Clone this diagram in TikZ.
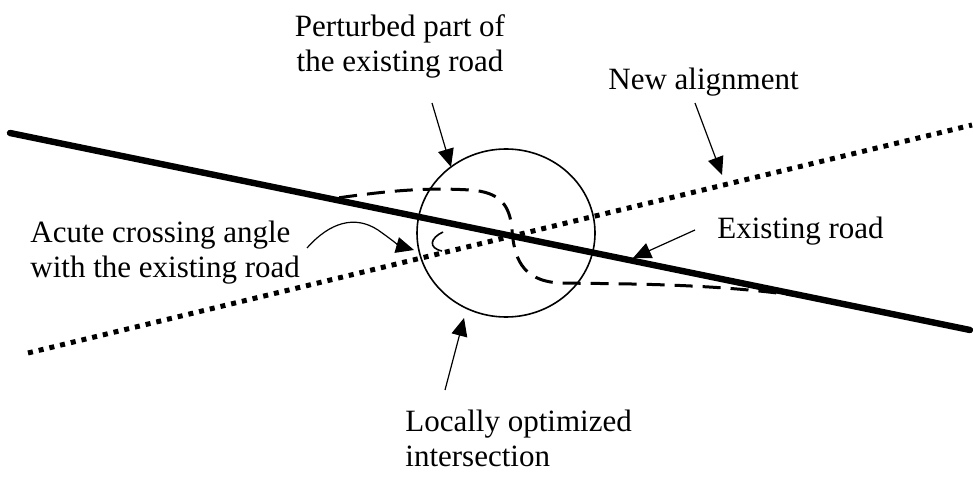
\documentclass[tikz,border=0pt]{standalone}
\usepackage{fontspec}
\setmainfont{Liberation Serif}
\usepackage{tikz}
\usetikzlibrary{arrows.meta,positioning,calc}

\begin{document}
\begin{tikzpicture}[
    x=0.5pt, y=-0.5pt,
    road/.style={line width=3.2pt, line cap=round},
    newalign/.style={line width=2.5pt, dash pattern=on 2.5pt off 3pt},
    perturbed/.style={line width=1.5pt, dash pattern=on 9pt off 5pt},
    pointer/.style={-{Triangle[length=9pt, width=8pt]}, line width=0.6pt},
    lbl/.style={inner sep=0pt, font=\fontsize{15.5}{17.5}\selectfont}
]
\useasboundingbox (0,0) rectangle (973,480);

% roads
\coordinate (rw) at (10,133);
\coordinate (re) at (970,330);
\coordinate (aw) at (28,353);
\coordinate (ae) at (972,125);
\draw[road] (rw) -- (re);
\draw[newalign] (aw) -- (ae);

% locally optimized intersection
\coordinate (ctr) at (506,233);
\draw[line width=0.8pt] (ctr) ellipse [x radius=44.5pt, y radius=42pt];
\draw[perturbed] (rw) -- (330,199) .. controls (380,192) and (420,187) .. (470,190)
    .. controls (500,192) and (510,205) .. (512,230)
    .. controls (514,255) and (520,281) .. (560,283)
    .. controls (620,284) and (720,283) .. (813,298) -- (re);
\draw[line width=0.8pt] (443,232) .. controls (430,238) and (428,248) .. (442,251);

% labels
\node[lbl, anchor=north, align=center] (pert) at (400,14) {Perturbed part of\\the existing road};
\node[lbl, anchor=north west] (newal) at (608,68) {New alignment};
\node[lbl, anchor=north west] (exist) at (717,217) {Existing road};
\node[lbl, anchor=north west, align=left] (acute) at (30,221) {Acute crossing angle\\with the existing road};
\node[lbl, anchor=north west, align=left] (local) at (405,410) {Locally optimized\\intersection};

% pointers
\coordinate (pertA) at (432,103);
\coordinate (pertB) at (451,167);
\coordinate (newalA) at (695,103);
\coordinate (newalB) at (722,175);
\coordinate (existA) at (695,230);
\coordinate (existB) at (633,258);
\coordinate (acuteA) at (307,248);
\coordinate (acuteB) at (414,250);
\coordinate (localA) at (445,390);
\coordinate (localB) at (464,318);
\draw[pointer] (pertA) -- (pertB);
\draw[pointer] (newalA) -- (newalB);
\draw[pointer] (existA) -- (existB);
\draw[pointer] (acuteA) .. controls (330,222) and (355,215) .. (378,230)
    .. controls (392,240) and (400,246) .. (acuteB);
\draw[pointer] (localA) -- (localB);
\end{tikzpicture}
\end{document}
